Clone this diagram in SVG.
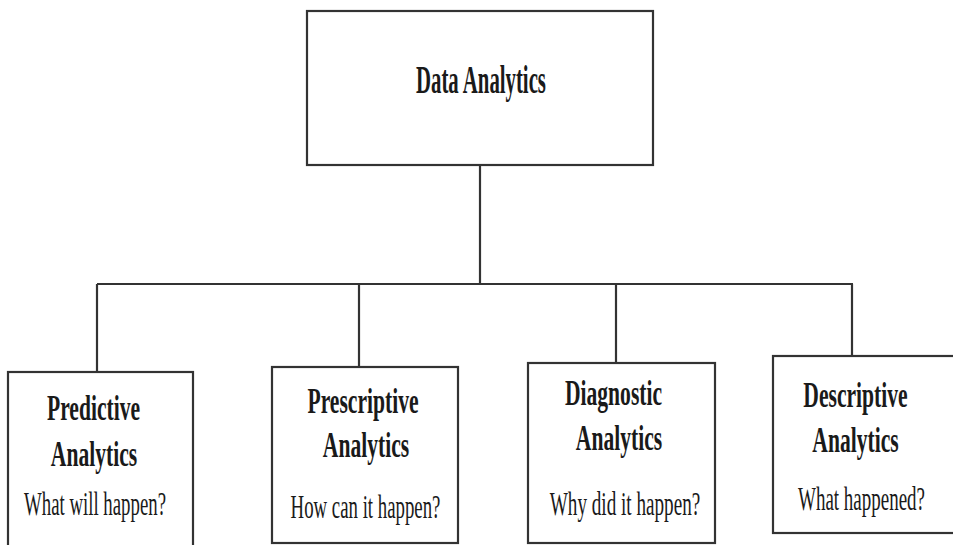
<svg xmlns="http://www.w3.org/2000/svg" width="953" height="545" viewBox="0 0 953 545">
  <style>
    .box { fill: #ffffff; stroke: #333333; stroke-width: 2.2; }
    .wire { fill: none; stroke: #333333; stroke-width: 2.2; }
    text { font-family: "Liberation Serif", "Times New Roman", serif; fill: #1a1a1a; text-anchor: middle; }
    .title { font-weight: bold; font-size: 36px; }
    .main { font-weight: bold; font-size: 40px; }
    .sub { font-size: 33px; }
  </style>
  <rect width="953" height="545" fill="#ffffff"/>

  <!-- tree connectors -->
  <g id="connectors">
    <path class="wire" d="M480,165 V284"/>
    <path class="wire" d="M97,284 H853"/>
    <path class="wire" d="M97,284 V372"/>
    <path class="wire" d="M359,284 V367"/>
    <path class="wire" d="M616,284 V363"/>
    <path class="wire" d="M852,284 V356"/>
  </g>

  <!-- root -->
  <g id="data-analytics">
    <rect class="box" x="307" y="11" width="346" height="154"/>
    <text class="main" transform="translate(481,93) scale(0.52,1)">Data Analytics</text>
  </g>

  <!-- children (type names condensed horizontally) -->
  <g id="predictive">
    <rect class="box" x="8" y="372" width="185" height="190"/>
    <text class="title" transform="translate(93.5,420) scale(0.6,1)">Predictive</text>
    <text class="title" transform="translate(94,466) scale(0.6,1)">Analytics</text>
    <text class="sub" transform="translate(95,515) scale(0.57,1)">What will happen?</text>
  </g>

  <g id="prescriptive">
    <rect class="box" x="272" y="367" width="186" height="176"/>
    <text class="title" transform="translate(363,413) scale(0.6,1)">Prescriptive</text>
    <text class="title" transform="translate(366,457) scale(0.6,1)">Analytics</text>
    <text class="sub" transform="translate(365.5,518) scale(0.57,1)">How can it happen?</text>
  </g>

  <g id="diagnostic">
    <rect class="box" x="528" y="363" width="187" height="180"/>
    <text class="title" transform="translate(613.5,405) scale(0.6,1)">Diagnostic</text>
    <text class="title" transform="translate(619,450) scale(0.6,1)">Analytics</text>
    <text class="sub" transform="translate(625,515) scale(0.58,1)">Why did it happen?</text>
  </g>

  <g id="descriptive">
    <rect class="box" x="773" y="356" width="190" height="177"/>
    <text class="title" transform="translate(855.5,407) scale(0.6,1)">Descriptive</text>
    <text class="title" transform="translate(855.5,452) scale(0.6,1)">Analytics</text>
    <text class="sub" transform="translate(861.5,510) scale(0.575,1)">What happened?</text>
  </g>
</svg>
